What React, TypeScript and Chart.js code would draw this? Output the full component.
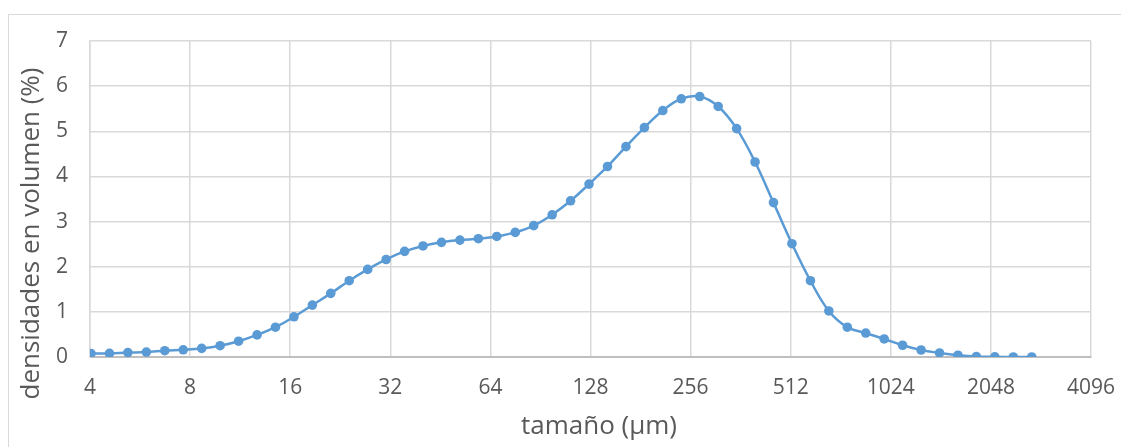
import React, { useEffect, useRef } from "react";
import { Chart, registerables } from "chart.js";

Chart.register(...registerables);

// particle size (µm) of each measured class
const sizes = [
  4.028, 4.577, 5.2, 5.909, 6.714, 7.629, 8.668, 9.849, 11.19, 12.72,
  14.45, 16.42, 18.65, 21.19, 24.08, 27.36, 31.09, 35.33, 40.14, 45.61,
  51.82, 58.88, 66.9, 76.02, 86.38, 98.15, 111.5, 126.7, 144.0, 163.6,
  185.9, 211.2, 240.0, 272.7, 309.9, 352.1, 400.0, 454.5, 516.5, 586.9,
  666.8, 757.7, 860.9, 978.2, 1111, 1263, 1435, 1630, 1852, 2105,
  2392, 2718,
];

// volume density (%) for each class
const volumes = [
  0.075, 0.08, 0.097, 0.11, 0.14, 0.16, 0.19, 0.25, 0.35, 0.49,
  0.66, 0.89, 1.15, 1.41, 1.69, 1.94, 2.16, 2.34, 2.46, 2.54,
  2.59, 2.62, 2.67, 2.76, 2.91, 3.15, 3.46, 3.83, 4.22, 4.66,
  5.08, 5.46, 5.72, 5.77, 5.55, 5.06, 4.32, 3.42, 2.51, 1.69,
  1.02, 0.66, 0.53, 0.4, 0.26, 0.155, 0.09, 0.04, 0.01, 0.005,
  0, 0,
];

const xTicks = [4, 8, 16, 32, 64, 128, 256, 512, 1024, 2048, 4096];
const yTicks = [0, 1, 2, 3, 4, 5, 6, 7];

const xTitle = "tamaño (µm)";
const yTitle = "densidades en volumen (%)";

const FONT = '"Open Sans", "Liberation Sans", sans-serif';
const TEXT = "#595959";
const BLUE = "#5B9BD5";

const titlePlugin = {
  id: "excelAxisTitles",
  afterDraw(chart: any) {
    const { ctx, chartArea } = chart;
    ctx.save();
    ctx.fillStyle = TEXT;
    ctx.font = `26px ${FONT}`;
    ctx.textAlign = "center";
    ctx.textBaseline = "middle";
    ctx.fillText(xTitle, (chartArea.left + chartArea.right) / 2 + 8.5, chartArea.bottom + 70);
    ctx.translate(32, (chartArea.top + chartArea.bottom) / 2 + 34.5);
    ctx.rotate(-Math.PI / 2);
    ctx.fillText(yTitle, 0, 0);
    ctx.restore();
  },
};

export default function App() {
  const ref = useRef<HTMLCanvasElement | null>(null);

  useEffect(() => {
    if (!ref.current) return;
    const points = sizes.map((s, i) => ({ x: s, y: volumes[i] }));
    const chart = new Chart(ref.current, {
      type: "line",
      data: {
        datasets: [
          {
            data: points,
            borderColor: BLUE,
            backgroundColor: BLUE,
            borderWidth: 2.5,
            pointRadius: 4.8,
            pointBackgroundColor: BLUE,
            pointBorderWidth: 0,
            tension: 0.4,
            fill: false,
          },
        ],
      },
      options: {
        responsive: false,
        animation: false,
        devicePixelRatio: 1,
        layout: { padding: { left: 0, top: 41, right: 30, bottom: 0 } },
        plugins: {
          legend: { display: false },
          tooltip: { enabled: false },
          title: { display: false },
        },
        scales: {
          x: {
            type: "logarithmic",
            min: 4,
            max: 4096,
            afterBuildTicks: (scale: any) => {
              scale.ticks = xTicks.map((v) => ({ value: v }));
            },
            afterFit: (scale: any) => {
              scale.height = 90;
              scale.paddingLeft = 0;
              scale.paddingRight = 0;
            },
            ticks: {
              autoSkip: false,
              maxRotation: 0,
              minRotation: 0,
              padding: 18,
              color: TEXT,
              font: { family: FONT, size: 21 },
              callback: (v: any) => String(v),
            },
            grid: {
              color: "#D9D9D9",
              lineWidth: 1.5,
              drawTicks: false,
            },
            border: { display: true, color: "#BFBFBF", width: 2 },
          },
          y: {
            type: "linear",
            min: 0,
            max: 7,
            afterBuildTicks: (scale: any) => {
              scale.ticks = yTicks.map((v) => ({ value: v }));
            },
            afterFit: (scale: any) => {
              scale.width = 90;
              scale.paddingTop = 0;
              scale.paddingBottom = 0;
            },
            ticks: {
              padding: 22,
              color: TEXT,
              font: { family: FONT, size: 21 },
              callback: (v: any) => String(v),
            },
            grid: {
              color: (c: any) => (c.tick && c.tick.value === 0 ? "#BFBFBF" : "#D9D9D9"),
              lineWidth: (c: any) => (c.tick && c.tick.value === 0 ? 2 : 1.5),
              drawTicks: false,
            },
            border: { display: true, color: "#D9D9D9", width: 1.5 },
          },
        },
      },
      plugins: [titlePlugin],
    });
    return () => chart.destroy();
  }, []);

  return (
    <>
      <div
        style={{
          position: "fixed",
          left: 8,
          top: 14,
          right: 0,
          bottom: 0,
          borderTop: "1px solid #D9D9D9",
          borderLeft: "1px solid #D9D9D9",
          background: "#FFFFFF",
        }}
      />
      <canvas
        ref={ref}
        width={1121}
        height={447}
        style={{ position: "fixed", left: 0, top: 0, width: 1121, height: 447 }}
      />
    </>
  );
}
